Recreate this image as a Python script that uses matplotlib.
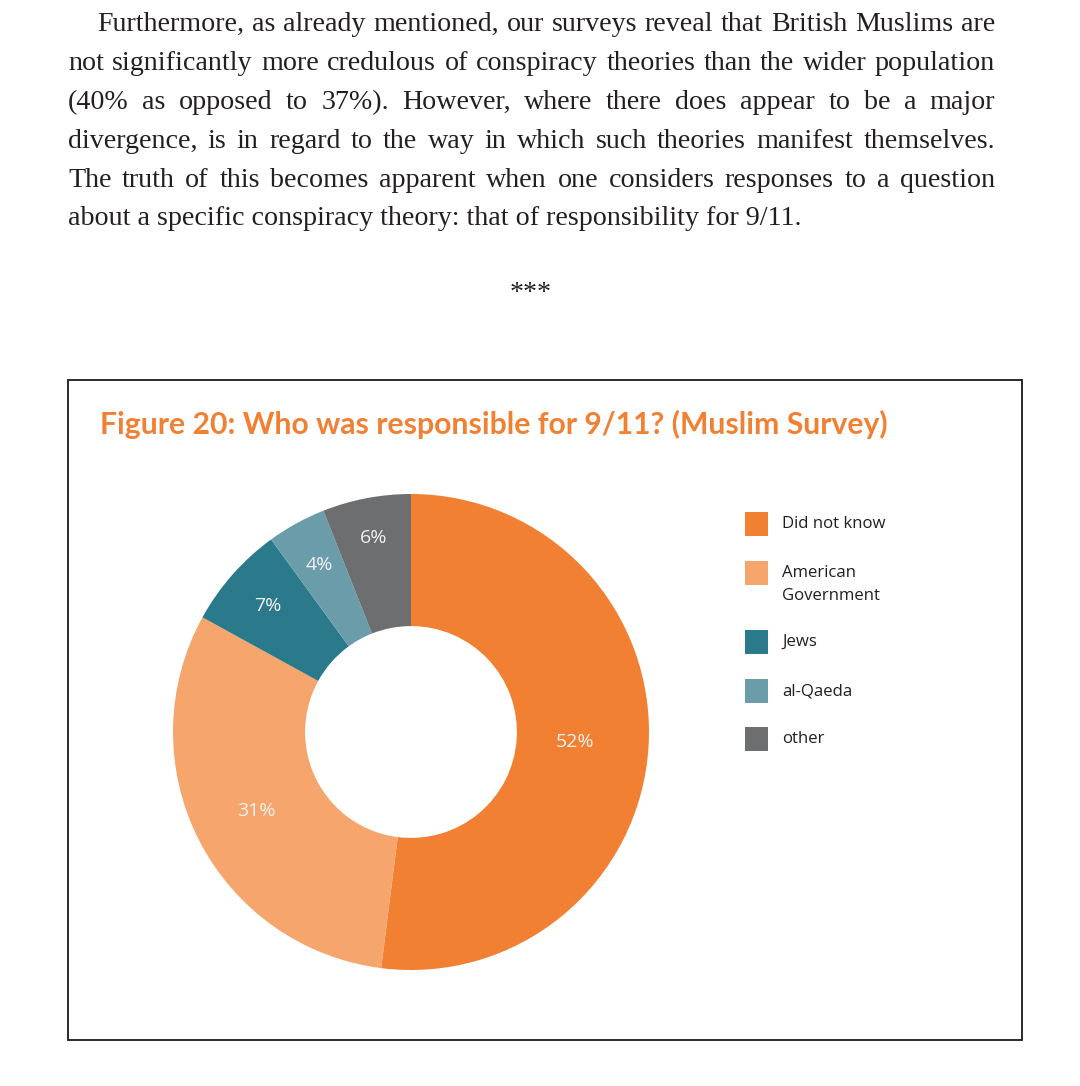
import matplotlib
matplotlib.use("Agg")
import numpy as np
import matplotlib.pyplot as plt
from matplotlib.patches import Rectangle

# ---- data ----
categories = ["Did not know", "American\nGovernment", "Jews", "al-Qaeda", "other"]
values = [52, 31, 7, 4, 6]
colors = ["#F28033", "#F6A56D", "#2B7A8C", "#6A9CAA", "#6D6E70"]

paragraph = [
    "Furthermore, as already mentioned, our surveys reveal that British Muslims are",
    "not significantly more credulous of conspiracy theories than the wider population",
    "(40% as opposed to 37%). However, where there does appear to be a major",
    "divergence, is in regard to the way in which such theories manifest themselves.",
    "The truth of this becomes apparent when one considers responses to a question",
    "about a specific conspiracy theory: that of responsibility for 9/11.",
]
title = "Figure 20: Who was responsible for 9/11? (Muslim Survey)"

W, H = 1080, 1086
fig = plt.figure(figsize=(W / 100, H / 100), dpi=100)
fig.patch.set_facecolor("white")

def fx(x):
    return x / W

def fy(y):
    return 1 - y / H

# ---- justified paragraph ----
fig.canvas.draw()
renderer = fig.canvas.get_renderer()
serif = ["Liberation Serif", "DejaVu Serif"]
psize = 20.2

def width_of(s, **kw):
    t = fig.text(0, 0, s, **kw)
    w = t.get_window_extent(renderer).width
    t.remove()
    return w

baselines = [31, 70, 109, 148, 187, 225]
right_edge = 995
for i, line in enumerate(paragraph):
    left = 97 if i == 0 else 68
    words = line.split(" ")
    kw = dict(fontsize=psize, family=serif, color="#231F20")
    if i == len(paragraph) - 1:
        fig.text(fx(left), fy(baselines[i]), line, va="baseline", ha="left", **kw)
        continue
    widths = [width_of(w, **kw) for w in words]
    gap = (right_edge - left - sum(widths)) / (len(words) - 1)
    x = left
    for w, wd in zip(words, widths):
        fig.text(fx(x), fy(baselines[i]), w, va="baseline", ha="left", **kw)
        x += wd + gap

fig.text(fx(531), fy(300), "***", fontsize=psize, family=serif, color="#231F20",
         ha="center", va="baseline")

# ---- chart frame ----
fig.add_artist(Rectangle((fx(68), fy(1040)), fx(1022) - fx(68), fy(380) - fy(1040),
                         transform=fig.transFigure, fill=False, edgecolor="#1a1a1a",
                         linewidth=1.3))

fig.text(fx(100), fy(434), title, fontsize=21.7, family=["Lato", "DejaVu Sans"],
         fontweight="bold", color="#F28033", ha="left", va="baseline")

# ---- donut ----
cx, cy, R = 411, 732, 238
ax = fig.add_axes([fx(cx - R), fy(cy + R), 2 * R / W, 2 * R / H])
wedges, texts, autotexts = ax.pie(
    values, colors=colors, startangle=90, counterclock=False, radius=1,
    wedgeprops=dict(width=0.555, linewidth=0),
    autopct=lambda p: f"{p:.0f}%", pctdistance=0.71,
    textprops=dict(color="#F2F2F2", fontsize=14, family=["Open Sans", "DejaVu Sans"]))
label_r = [0.69, 0.73, 0.80, 0.80, 0.83]
for w, t, r in zip(wedges, autotexts, label_r):
    ang = np.deg2rad((w.theta1 + w.theta2) / 2)
    t.set_position((r * np.cos(ang), r * np.sin(ang)))
ax.set_xlim(-1, 1)
ax.set_ylim(-1, 1)
ax.set_aspect("auto")
ax.axis("off")

# ---- legend ----
leg_font = ["Open Sans", "DejaVu Sans"]
row_y = [524, 573, 642, 691, 739]
for lab, col, y in zip(categories, colors, row_y):
    fig.add_artist(Rectangle((fx(745), fy(y + 12)), 23 / W, 24 / H,
                             transform=fig.transFigure, facecolor=col, edgecolor="none"))
    lines = lab.split("\n")
    for k, ln in enumerate(lines):
        fig.text(fx(782), fy(y + 23 * k), ln, fontsize=12.1, family=leg_font,
                 color="#231F20", ha="left", va="center")

fig.savefig("out.png", dpi=100)
